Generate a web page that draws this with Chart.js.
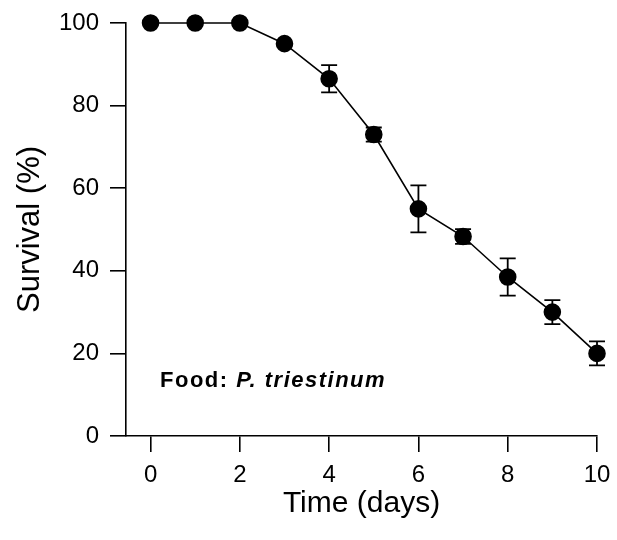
<!DOCTYPE html>
<html>
<head>
<meta charset="utf-8">
<script src="https://cdn.jsdelivr.net/npm/chart.js@4"></script>
<style>
  body { margin: 0; background: #fff; }
  canvas { display: block; }
</style>
</head>
<body>
<canvas id="survivalChart" width="617" height="540"></canvas>
<script>
// data
var days = [0, 1, 2, 3, 4, 5, 6, 7, 8, 9, 10];
var survival = [100, 100, 100, 95, 86.5, 73, 55, 48.3, 38.5, 30, 20];
var errors = [0, 0, 0, 0, 3.3, 1.7, 5.7, 1.8, 4.5, 2.9, 2.9];
var xTicks = [0, 2, 4, 6, 8, 10];
var yTicks = [0, 20, 40, 60, 80, 100];

var font = "'Liberation Sans', Arial, sans-serif";

var errorBars = {
  id: 'errorBars',
  afterDatasetsDraw: function(chart) {
    var ctx = chart.ctx;
    var xs = chart.scales.x, ys = chart.scales.y;
    ctx.save();
    ctx.strokeStyle = '#000';
    ctx.lineWidth = 1.8;
    for (var i = 0; i < days.length; i++) {
      if (!errors[i]) continue;
      var px = xs.getPixelForValue(days[i]);
      var top = ys.getPixelForValue(survival[i] + errors[i]);
      var bot = ys.getPixelForValue(survival[i] - errors[i]);
      ctx.beginPath();
      ctx.moveTo(px, top); ctx.lineTo(px, bot);
      ctx.moveTo(px - 8, top); ctx.lineTo(px + 8, top);
      ctx.moveTo(px - 8, bot); ctx.lineTo(px + 8, bot);
      ctx.stroke();
    }
    ctx.restore();
  }
};

var foodLabel = {
  id: 'foodLabel',
  afterDraw: function(chart) {
    var ctx = chart.ctx;
    var x = chart.chartArea.left + 34, y = 381;
    ctx.save();
    ctx.fillStyle = '#000';
    ctx.textBaseline = 'middle';
    ctx.letterSpacing = '1.5px';
    ctx.font = 'bold 22px ' + font;
    var a = 'Food: ';
    ctx.fillText(a, x, y);
    x += ctx.measureText(a).width;
    ctx.font = 'italic bold 22px ' + font;
    ctx.fillText('P. triestinum', x, y);
    ctx.restore();
  }
};

var ctx1 = document.getElementById('survivalChart');
var myChart = new Chart(ctx1, {
  type: 'line',
  data: {
    datasets: [{
      data: days.map(function(d, i) { return { x: d, y: survival[i] }; }),
      borderColor: '#000',
      borderWidth: 1.6,
      backgroundColor: '#000',
      pointRadius: 8,
      pointHoverRadius: 8,
      pointBackgroundColor: '#000',
      pointBorderColor: '#000',
      tension: 0,
      clip: false
    }]
  },
  options: {
    responsive: false,
    animation: false,
    layout: { padding: { left: 0, right: 20, top: 23, bottom: 0 } },
    plugins: { legend: { display: false }, tooltip: { enabled: false } },
    scales: {
      x: {
        type: 'linear',
        min: -0.55,
        max: 10,
        afterBuildTicks: function(scale) {
          scale.ticks = xTicks.map(function(v) { return { value: v }; });
        },
        afterFit: function(scale) {
          scale.height = 104;
          scale.paddingLeft = 0;
          scale.paddingRight = 0;
        },
        border: { display: true, color: '#000', width: 1.6 },
        grid: { drawOnChartArea: false, color: '#000', lineWidth: 1.6, tickLength: 16 },
        ticks: { color: '#000', padding: 9, font: { family: font, size: 24 } },
        title: {
          display: true,
          text: 'Time (days)',
          color: '#000',
          font: { family: font, size: 30 },
          padding: { top: 0, bottom: 18 }
        }
      },
      y: {
        min: 0,
        max: 100,
        afterBuildTicks: function(scale) {
          scale.ticks = yTicks.map(function(v) { return { value: v }; });
        },
        afterFit: function(scale) {
          scale.width = 126;
          scale.paddingTop = 0;
          scale.paddingBottom = 0;
        },
        border: { display: true, color: '#000', width: 1.6 },
        grid: { drawOnChartArea: false, color: '#000', lineWidth: 1.6, tickLength: 16 },
        ticks: { color: '#000', padding: 11, font: { family: font, size: 24 } },
        title: {
          display: true,
          text: 'Survival (%)',
          color: '#000',
          font: { family: font, size: 31 },
          padding: { top: 12, bottom: 0 }
        }
      }
    }
  },
  plugins: [errorBars, foodLabel]
});
</script>
</body>
</html>
